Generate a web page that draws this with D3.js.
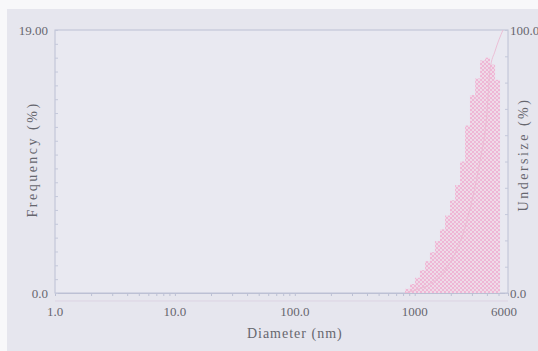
<!DOCTYPE html>
<html>
<head>
<meta charset="utf-8">
<script src="https://d3js.org/d3.v7.min.js"></script>
<style>
  body { margin:0; background:#f8f8fa; }
  .canvas { width:538px; height:351px; }
  text { font-family:"Liberation Serif", "DejaVu Serif", serif; fill:#66666e; }
</style>
</head>
<body>
<div class="canvas" id="canvas"></div>
<script>
// bin edges (nm), one more than the bars
var binEdges = [830, 915, 1005, 1105, 1220, 1340, 1475, 1625, 1790, 1970, 2170,
                2390, 2630, 2890, 3190, 3510, 3860, 4250, 4680, 5150];
// frequency (%) of each bin
var freq = [0.3, 0.65, 1.1, 1.65, 2.3, 2.95, 3.75, 4.6, 5.6, 6.7, 7.8,
            9.5, 12.1, 14.3, 15.5, 16.8, 17.0, 16.5, 15.4];
// cumulative undersize curve (diameter, %)
var cumD = [830, 1000, 1500, 2000, 2500, 3000, 3500, 4000, 4250, 4680, 5450];
var cumU = [0, 1, 5, 12, 22, 35, 50, 68, 85, 92, 100];

var xTicks = [1, 10, 100, 1000, 6000];
var xTickLabels = ['1.0', '10.0', '100.0', '1000', '6000'];
var yLeftTicks = [0, 19];
var yLeftLabels = ['0.0', '19.00'];
var yRightTicks = [0, 100];
var yRightLabels = ['0.0', '100.0'];

var W = 538, H = 351;
var m = {t:30, r:30, b:58, l:55};
var w = W - m.l - m.r, h = H - m.t - m.b;

var svg = d3.select('.canvas')
    .append('svg')
    .attr('width', W)
    .attr('height', H);

// paper background (photo of a printout)
svg.append('rect').attr('x', 7).attr('y', 9).attr('width', W - 7).attr('height', H - 9)
    .attr('fill', '#e6e6ee');

var defs = svg.append('defs');
var pat = defs.append('pattern')
    .attr('id', 'hatch')
    .attr('patternUnits', 'userSpaceOnUse')
    .attr('width', 4).attr('height', 4);
pat.append('rect').attr('width', 4).attr('height', 4).attr('fill', '#eedbe8');
pat.append('path').attr('d', 'M-1,1 l2,-2 M0,4 l4,-4 M3,5 l2,-2')
    .attr('stroke', '#efb6d5').attr('stroke-width', 1);
pat.append('path').attr('d', 'M-1,3 l2,2 M0,0 l4,4 M3,-1 l2,2')
    .attr('stroke', '#efb6d5').attr('stroke-width', 1);

var plot = svg.append('g')
    .attr('transform', 'translate(' + m.l + ',' + m.t + ')');

var scaleX = d3.scaleLog().domain([1, 6000]).range([0, w]);
var scaleY = d3.scaleLinear().domain([0, 19]).range([h, 0]);
var scaleY2 = d3.scaleLinear().domain([0, 100]).range([h, 0]);

// frame
plot.append('rect').attr('width', w).attr('height', h)
    .attr('fill', '#e9e9f1').attr('stroke', '#bcc0d4').attr('stroke-width', 1);

// bars
var bins = freq.map(function(f, i){
    return {x0: binEdges[i], x1: binEdges[i + 1], f: f};
});
plot.selectAll('rect.bar')
    .data(bins)
    .enter()
    .append('rect').attr('class', 'bar')
    .attr('x', function(d){ return scaleX(d.x0); })
    .attr('width', function(d){ return scaleX(d.x1) - scaleX(d.x0); })
    .attr('y', function(d){ return scaleY(d.f); })
    .attr('height', function(d){ return h - scaleY(d.f); })
    .attr('fill', 'url(#hatch)');

// undersize curve
var line = d3.line()
    .x(function(d){ return scaleX(d[0]); })
    .y(function(d){ return scaleY2(d[1]); })
    .curve(d3.curveMonotoneX);
plot.append('path')
    .datum(cumD.map(function(d, i){ return [d, cumU[i]]; }))
    .attr('d', line)
    .attr('fill', 'none')
    .attr('stroke', '#ebbad3').attr('stroke-width', 0.9);

// bottom axis: minor log ticks
var minor = [];
[1, 10, 100, 1000].forEach(function(dec){
    for (var k = 1; k < 10; k++) { if (dec * k <= 6000) minor.push(dec * k); }
});
plot.append('g').attr('transform', 'translate(0,' + h + ')')
    .call(d3.axisBottom(scaleX).tickValues(minor).tickSize(3).tickFormat(''))
    .call(function(g){
        g.select('.domain').attr('stroke', '#bcc0d4');
        g.selectAll('line').attr('stroke', '#bcc0d4');
    });
plot.append('line').attr('x1', 0).attr('x2', w).attr('y1', h + 8).attr('y2', h + 8)
    .attr('stroke', '#dcd3e3').attr('stroke-width', 1);

plot.selectAll('text.xlab')
    .data(xTicks)
    .enter()
    .append('text').attr('class', 'xlab')
    .attr('x', function(d){ return scaleX(d); })
    .attr('y', h + 23)
    .attr('text-anchor', function(d, i){ return i == xTicks.length - 1 ? 'end' : 'middle'; })
    .attr('dx', function(d, i){ return i == xTicks.length - 1 ? 9 : 0; })
    .style('font-size', '13px')
    .text(function(d, i){ return xTickLabels[i]; });

// left axis minor ticks
plot.append('g')
    .call(d3.axisLeft(scaleY).ticks(19).tickSize(-3).tickFormat(''))
    .call(function(g){
        g.select('.domain').remove();
        g.selectAll('line').attr('stroke', '#c4c8da');
    });
// right axis minor ticks
plot.append('g').attr('transform', 'translate(' + w + ',0)')
    .call(d3.axisRight(scaleY2).ticks(10).tickSize(-3).tickFormat(''))
    .call(function(g){
        g.select('.domain').remove();
        g.selectAll('line').attr('stroke', '#c4c8da');
    });

plot.selectAll('text.ylab')
    .data(yLeftTicks)
    .enter()
    .append('text').attr('class', 'ylab')
    .attr('x', -7)
    .attr('y', function(d){ return scaleY(d) + 5; })
    .attr('text-anchor', 'end')
    .style('font-size', '13px')
    .text(function(d, i){ return yLeftLabels[i]; });

plot.selectAll('text.y2lab')
    .data(yRightTicks)
    .enter()
    .append('text').attr('class', 'y2lab')
    .attr('x', w + 2)
    .attr('y', function(d){ return scaleY2(d) + 5; })
    .attr('text-anchor', 'start')
    .style('font-size', '13px')
    .text(function(d, i){ return yRightLabels[i]; });

// axis titles
plot.append('text')
    .attr('x', scaleX(100)).attr('y', h + 45)
    .attr('text-anchor', 'middle')
    .style('font-size', '14px')
    .style('letter-spacing', '1px')
    .text('Diameter (nm)');

plot.append('text')
    .attr('transform', 'translate(-18,' + (h / 2 - 2) + ') rotate(-90)')
    .attr('text-anchor', 'middle')
    .style('font-size', '14px')
    .style('letter-spacing', '2.5px')
    .text('Frequency (%)');

plot.append('text')
    .attr('transform', 'translate(' + (w + 20) + ',' + (h / 2 - 7) + ') rotate(-90)')
    .attr('text-anchor', 'middle')
    .style('font-size', '14px')
    .style('letter-spacing', '2.5px')
    .text('Undersize (%)');
</script>
</body>
</html>
